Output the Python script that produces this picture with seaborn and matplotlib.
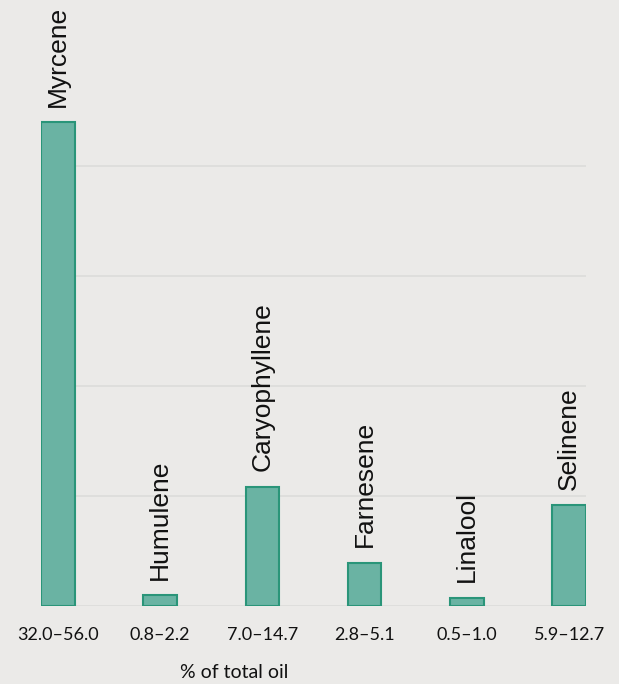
import matplotlib
matplotlib.use("Agg")
import matplotlib.pyplot as plt
import seaborn as sns
import pandas as pd

# Data
compounds = ["Myrcene", "Humulene", "Caryophyllene", "Farnesene", "Linalool", "Selinene"]
ranges = ["32.0–56.0", "0.8–2.2", "7.0–14.7", "2.8–5.1", "0.5–1.0", "5.9–12.7"]
values = [44.0, 1.0, 10.85, 3.95, 0.75, 9.2]

bg = "#ebeae8"
sns.set_theme(style="white")
plt.rcParams["font.family"] = ["Lato", "DejaVu Sans"]

df = pd.DataFrame({"range": ranges, "value": values, "compound": compounds})

fig = plt.figure(figsize=(6.19, 6.84), dpi=100, facecolor=bg)
ax = fig.add_axes([41/619, 78/684, (586-41)/619, 606/684])
ax.set_facecolor(bg)

sns.barplot(data=df, x="range", y="value", order=ranges, color="#6ab3a3",
            saturation=1, width=0.33, edgecolor="#2a9579", linewidth=1.5, ax=ax)

ax.set_xlim(-0.165, 5.165)
ax.set_ylim(0, 55.1)
ax.set_yticks([0, 10, 20, 30, 40])
ax.yaxis.grid(True, color="#dcdcda", linewidth=1.2)
ax.set_axisbelow(True)
ax.tick_params(axis="y", left=False, labelleft=False)
ax.tick_params(axis="x", bottom=False, pad=9, labelsize=13, colors="#111111")
for s in ax.spines.values():
    s.set_visible(False)
ax.set_xlabel("")
ax.set_ylabel("")

for i, (name, v) in enumerate(zip(compounds, values)):
    ax.annotate(name, xy=(i, v), xytext=(0, 11), textcoords="offset points",
                rotation=90, ha="center", va="bottom", fontsize=19,
                family=["Liberation Sans", "DejaVu Sans"], color="#111111",
                annotation_clip=False)

fig.text(234/619, 1 - 672/684, "% of total oil", ha="center", va="center",
         fontsize=14, color="#111111")

fig.savefig("out.png", dpi=100, facecolor=bg)
